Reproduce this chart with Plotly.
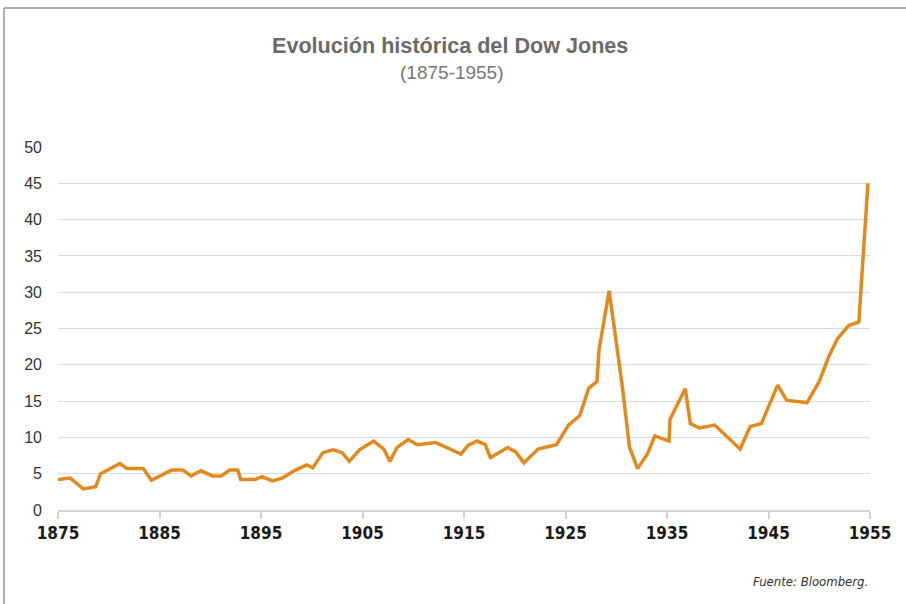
import plotly.graph_objects as go

years = [1875.0, 1876.2, 1877.5, 1878.7, 1879.2, 1881.1, 1881.8, 1883.4, 1884.2, 1885.1,
         1886.2, 1887.3, 1888.1, 1889.1, 1890.2, 1891.1, 1891.9, 1892.7, 1893.0, 1894.4,
         1895.1, 1896.1, 1897.1, 1898.4, 1899.5, 1900.1, 1901.1, 1902.1, 1903.0, 1903.7,
         1904.7, 1906.1, 1907.1, 1907.7, 1908.4, 1909.5, 1910.4, 1912.2, 1914.7, 1915.4,
         1916.3, 1917.1, 1917.6, 1919.3, 1920.1, 1920.9, 1922.3, 1924.1, 1925.3, 1926.4,
         1927.3, 1928.1, 1928.3, 1929.3, 1930.6, 1931.3, 1932.1, 1933.1, 1933.8, 1935.2,
         1935.3, 1936.8, 1937.3, 1938.2, 1939.7, 1942.2, 1943.2, 1944.3, 1945.9, 1946.8,
         1948.8, 1950.0, 1950.9, 1951.8, 1952.9, 1953.9, 1954.8]
values = [4.2, 4.4, 2.9, 3.2, 5.0, 6.4, 5.7, 5.7, 4.1, 4.7,
          5.5, 5.5, 4.7, 5.4, 4.7, 4.7, 5.5, 5.5, 4.2, 4.2,
          4.6, 4.0, 4.4, 5.5, 6.2, 5.8, 7.9, 8.3, 7.9, 6.7,
          8.3, 9.5, 8.4, 6.7, 8.6, 9.7, 9.0, 9.3, 7.7, 8.9,
          9.5, 9.0, 7.2, 8.6, 8.0, 6.5, 8.4, 9.0, 11.7, 13.0,
          16.8, 17.7, 22.0, 30.2, 17.0, 8.7, 5.7, 7.8, 10.2, 9.5,
          12.5, 16.7, 11.9, 11.3, 11.7, 8.4, 11.5, 11.9, 17.2, 15.1,
          14.8, 17.7, 21.0, 23.6, 25.4, 25.9, 45.0]

x_ticks = [1875, 1885, 1895, 1905, 1915, 1925, 1935, 1945, 1955]
y_ticks = [0, 5, 10, 15, 20, 25, 30, 35, 40, 45, 50]

title_text = "Evolución histórica del Dow Jones"
subtitle_text = "(1875-1955)"
source_text = "Fuente: Bloomberg."

W, H = 906, 604
L, R, T, B = 58, 870, 147, 510  # plot area in pixels


def px_x(p):
    return (p - L) / (R - L)


def px_y(p):
    return (B - p) / (B - T)


fig = go.Figure()
fig.add_trace(go.Scatter(
    x=years, y=values, mode="lines",
    line=dict(color="#E38A1E", width=3.5),
    hoverinfo="skip", showlegend=False,
))

fig.update_layout(
    width=W, height=H,
    margin=dict(l=L, r=W - R, t=T, b=H - B, pad=0),
    paper_bgcolor="white", plot_bgcolor="white",
    xaxis=dict(
        range=[1875, 1955], tickmode="array", tickvals=x_ticks,
        ticktext=[str(v) for v in x_ticks],
        showgrid=False, zeroline=False,
        showline=True, linecolor="#d3d3d3", linewidth=1.5,
        ticks="outside", ticklen=7, tickcolor="#d3d3d3", tickwidth=1.5,
        tickfont=dict(family="Liberation Sans Narrow, DejaVu Sans Condensed, Arial", size=17,
                      color="#1a1a1a", weight="bold"),
        fixedrange=True,
    ),
    yaxis=dict(
        range=[0, 50], tickmode="array", tickvals=y_ticks,
        showgrid=True, gridcolor="#dadada", gridwidth=1.2,
        zeroline=False, showline=False, ticks="",
        ticklabelstandoff=15,
        tickfont=dict(family="Liberation Sans, Arial", size=16, color="#333333"),
        fixedrange=True,
    ),
    annotations=[
        dict(text="<b>" + title_text + "</b>", xref="paper", yref="paper",
             x=px_x(450), y=px_y(45), xanchor="center", yanchor="middle", showarrow=False,
             font=dict(family="Liberation Sans, Arial", size=21.6, color="#6a6a6a")),
        dict(text=subtitle_text, xref="paper", yref="paper",
             x=px_x(452), y=px_y(73), xanchor="center", yanchor="middle", showarrow=False,
             font=dict(family="Liberation Sans, Arial", size=19, color="#777777")),
        dict(text="<i>" + source_text + "</i>", xref="paper", yref="paper",
             x=px_x(870), y=px_y(581), xanchor="right", yanchor="middle", showarrow=False,
             font=dict(family="Liberation Sans Narrow, DejaVu Sans Condensed, Arial", size=13,
                       color="#333333")),
    ],
    shapes=[
        dict(type="line", xref="paper", yref="paper",
             x0=px_x(4), x1=px_x(4), y0=px_y(8), y1=px_y(610),
             line=dict(color="#8c959b", width=1.5)),
        dict(type="line", xref="paper", yref="paper",
             x0=px_x(4), x1=px_x(906), y0=px_y(8), y1=px_y(8),
             line=dict(color="#8c959b", width=1.5)),
    ],
)

fig.write_html("out.html", config={"displayModeBar": False})
